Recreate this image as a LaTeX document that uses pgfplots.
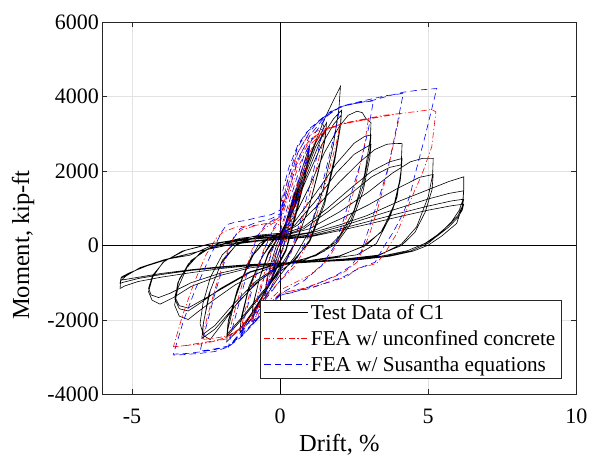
\documentclass[border=0pt]{standalone}
\usepackage{pgfplots}
\pgfplotsset{compat=1.18}
\usepackage{fontspec}
\setmainfont{Liberation Serif}
\begin{document}
\begin{tikzpicture}
\begin{axis}[
  at={(0pt,0pt)}, anchor=south west,
  scale only axis, width=474pt, height=372pt,
  xmin=-6, xmax=10, ymin=-4000, ymax=6000,
  xtick={-5,0,5,10}, ytick={-4000,-2000,0,2000,4000,6000},
  grid=major, major grid style={draw=black!11, line width=0.6pt},
  tick align=inside, major tick length=5pt,
  axis line style={black!85, line width=0.6pt},
  tick style={black!85, line width=0.6pt},
  tick label style={font=\fontsize{22}{26}\selectfont},
  xticklabel={\pgfmathprintnumber[assume math mode=true,1000 sep={}]{\tick}},
  yticklabel={\pgfmathprintnumber[assume math mode=true,1000 sep={}]{\tick}},
  xticklabel style={anchor=base, yshift=-29pt},
  label style={font=\fontsize{24.5}{29}\selectfont},
  xlabel={Drift, \%}, ylabel={Moment, kip-ft},
  xlabel style={at={(axis description cs:0.5,0)}, anchor=base, yshift=-57.5pt},
  ylabel style={at={(axis description cs:-0.1673,0.401)}, anchor=center},
  scaled y ticks=false, scaled x ticks=false,
  legend style={at={(0.969,0.043)}, anchor=south east, draw=black!85, line width=0.6pt,
    font=\fontsize{21.2}{24}\selectfont, inner xsep=4pt, inner ysep=3pt, row sep=5.5pt,
    cells={anchor=west}},
  legend image code/.code={\draw[#1, line width=1pt] (0pt,0.3pt) -- (44pt,0.3pt);},
]
\draw[black, line width=0.6pt] (axis cs:0,-4000) -- (axis cs:0,6000);
\draw[black, line width=0.6pt] (axis cs:-6,0) -- (axis cs:10,0);

% Test data of C1
\addplot[black, draw=black, line width=0.6pt] coordinates {
(0,0) (0.12,350) (0.25,720) (0.22,550) (0.1,150) (0,-80) (-0.12,-380) (-0.25,-720) (-0.22,-520) (-0.1,-120) (0,80)
(0.25,780) (0.5,1450) (0.46,1150) (0.3,550) (0.1,-50) (-0.1,-450) (-0.3,-900) (-0.5,-1300) (-0.46,-1000) (-0.3,-450) (-0.1,50) (0,200)
(0.3,850) (0.6,1650) (0.8,2200) (1.0,2700) (0.97,2450) (0.8,1750) (0.5,800) (0.2,-100) (-0.1,-550) (-0.4,-1050) (-0.7,-1550) (-0.95,-1950) (-0.92,-1650) (-0.7,-900) (-0.4,-250) (-0.1,150) (0,250)
(0.3,800) (0.6,1550) (0.8,2050) (0.98,2550) (0.95,2250) (0.78,1600) (0.5,700) (0.2,-150) (-0.1,-600) (-0.4,-1100) (-0.7,-1550) (-0.94,-1850) (-0.9,-1550) (-0.68,-850) (-0.4,-200) (-0.1,180) (0,260)
(0.4,1000) (0.8,1900) (1.2,2750) (1.57,3300) (1.54,3000) (1.35,2200) (1.0,1100) (0.6,200) (0.2,-400) (-0.3,-1000) (-0.8,-1650) (-1.35,-2350) (-1.32,-2050) (-1.1,-1300) (-0.7,-450) (-0.3,100) (0,280)
(0.4,950) (0.8,1800) (1.2,2650) (1.55,3150) (1.52,2850) (1.3,2000) (0.95,950) (0.5,50) (0.1,-450) (-0.4,-1100) (-0.9,-1750) (-1.35,-2250) (-1.3,-1900) (-1.05,-1100) (-0.6,-300) (-0.2,150) (0,280)
(0.3,800) (0.7,1700) (1.1,2600) (1.5,3400) (1.8,3900) (2.04,4280) (1.99,3700) (1.8,2700) (1.45,1500) (1.0,400) (0.5,-300) (0,-800) (-0.6,-1500) (-1.2,-2100) (-1.8,-2590) (-1.76,-2250) (-1.5,-1400) (-1.1,-500) (-0.7,50) (-0.2,280) (0,320)
(0.4,900) (0.9,1900) (1.4,2900) (1.8,3400) (2.08,3640) (2.05,3300) (1.85,2400) (1.5,1200) (1.0,150) (0.5,-400) (0,-700) (-0.6,-1300) (-1.2,-1900) (-1.8,-2450) (-1.76,-2100) (-1.45,-1200) (-1.0,-350) (-0.5,150) (0,300)
(0.4,850) (0.9,1800) (1.4,2700) (1.8,3250) (2.06,3500) (2.03,3150) (1.85,2300) (1.5,1100) (1.0,100) (0.4,-450) (0,-700) (-0.6,-1250) (-1.2,-1850) (-1.78,-2380) (-1.74,-2000) (-1.4,-1100) (-0.9,-250) (-0.4,200) (0,300)
(0.5,800) (1.0,1600) (1.5,2500) (2.0,3200) (2.3,3500) (2.6,3610) (2.78,3570) (2.9,3410) (3.07,3300) (3.05,2900) (2.85,1900) (2.5,950) (2.0,250) (1.5,-150) (0.8,-400) (0,-550) (-0.7,-950) (-1.4,-1500) (-2.0,-2150) (-2.36,-2530) (-2.58,-2420) (-2.7,-2100) (-2.6,-1550) (-2.35,-850) (-1.95,-250) (-1.4,150) (-0.7,280) (0,330)
(0.5,650) (1.2,1400) (1.9,2200) (2.5,2750) (2.85,2930) (3.07,2970) (3.03,2550) (2.8,1600) (2.4,700) (1.9,100) (1.2,-250) (0.5,-450) (0,-550) (-0.8,-1000) (-1.6,-1700) (-2.2,-2250) (-2.64,-2500) (-2.6,-2150) (-2.4,-1300) (-2.0,-500) (-1.5,0) (-0.8,230) (0,300)
(0.5,550) (1.2,1200) (1.9,1950) (2.5,2450) (3.07,2720) (3.03,2350) (2.8,1450) (2.4,600) (1.9,50) (1.2,-280) (0,-520) (-0.8,-950) (-1.6,-1600) (-2.2,-2150) (-2.62,-2400) (-2.58,-2050) (-2.35,-1200) (-1.95,-400) (-1.4,80) (-0.7,230) (0,290)
(0.6,550) (1.3,1100) (2.0,1700) (2.7,2250) (3.2,2580) (3.6,2720) (3.9,2745) (4.12,2740) (4.08,2000) (3.95,1300) (3.7,750) (3.25,50) (2.6,-250) (1.5,-370) (0.5,-450) (-0.5,-650) (-1.5,-1050) (-2.3,-1500) (-2.8,-1800) (-3.1,-1990) (-3.4,-1900) (-3.56,-1600) (-3.45,-1150) (-3.15,-600) (-2.7,-200) (-2.1,50) (-1.3,200) (-0.5,270) (0,290)
(0.8,500) (1.6,1000) (2.4,1550) (3.1,2000) (3.7,2250) (4.12,2340) (4.08,1900) (3.85,1100) (3.45,400) (2.9,0) (2.0,-280) (1.0,-400) (0,-480) (-1,-700) (-2,-1150) (-2.7,-1550) (-3.1,-1760) (-3.4,-1700) (-3.55,-1450) (-3.45,-1000) (-3.1,-500) (-2.6,-150) (-1.8,80) (-0.8,200) (0,250)
(0.8,450) (1.6,900) (2.4,1400) (3.1,1850) (3.7,2100) (4.1,2170) (4.06,1750) (3.82,1000) (3.4,350) (2.8,-20) (2.0,-290) (1.0,-410) (0,-490) (-1,-720) (-2,-1180) (-2.7,-1500) (-3.1,-1680) (-3.4,-1620) (-3.55,-1380) (-3.4,-900) (-3.0,-400) (-2.4,-80) (-1.6,100) (-0.7,200) (0,240)
(1,450) (2,900) (3,1450) (3.8,1950) (4.4,2250) (4.8,2340) (5.17,2340) (5.15,1900) (5.0,1306) (4.61,500) (4.1,40) (3.3,-280) (2.2,-380) (1,-450) (0,-500) (-1,-600) (-2,-800) (-3,-1100) (-3.6,-1400) (-4.05,-1577) (-4.32,-1470) (-4.44,-1245) (-4.3,-850) (-3.95,-450) (-3.3,-150) (-2.4,40) (-1.4,160) (-0.5,220) (0,230)
(1,350) (2,700) (3,1100) (4,1550) (4.7,1830) (5.17,1910) (5.13,1500) (4.9,900) (4.55,350) (4.1,0) (3.3,-260) (2.2,-360) (1,-430) (0,-480) (-1,-560) (-2,-740) (-3,-1000) (-3.7,-1280) (-4.1,-1400) (-4.35,-1330) (-4.44,-1150) (-4.3,-800) (-3.9,-420) (-3.2,-130) (-2.3,50) (-1.3,150) (-0.4,200) (0,210)
(1,330) (2,550) (2.92,800) (4.05,1200) (5,1500) (5.7,1720) (6.2,1846) (6.2,1500) (6.15,1038) (5.96,591) (5.45,250) (5.0,8) (4.5,-150) (3.7,-290) (2.7,-380) (1.5,-430) (0,-490) (-1,-540) (-2,-620) (-3,-730) (-4,-850) (-4.8,-970) (-5.25,-1090) (-5.4,-1156) (-5.38,-950) (-5.2,-820) (-4.72,-591) (-3.9,-380) (-3.04,-260) (-2.3,0) (-1.25,97) (0,200)
(1,280) (2,500) (3,750) (4,1000) (5,1250) (5.7,1400) (6.2,1470) (6.18,1250) (6.05,950) (5.8,650) (5.4,320) (5.0,60) (4.4,-150) (3.5,-300) (2.5,-380) (1.2,-440) (0,-480) (-1,-520) (-2,-590) (-3,-670) (-4,-780) (-4.8,-890) (-5.3,-990) (-5.4,-1020) (-5.37,-880) (-5.15,-780) (-4.6,-560) (-3.8,-360) (-2.8,-170) (-1.8,10) (-0.8,130) (0,180)
(1,250) (2,440) (3,650) (4,860) (5,1060) (5.8,1200) (6.2,1245) (6.15,1050) (6.0,800) (5.7,550) (5.3,280) (4.9,60) (4.3,-140) (3.4,-290) (2.3,-370) (1,-430) (0,-470) (-1,-510) (-2,-570) (-3,-650) (-4,-750) (-4.9,-870) (-5.38,-933) (-5.36,-850) (-5.1,-740) (-4.5,-550) (-3.7,-350) (-2.7,-150) (-1.7,20) (-0.7,120) (0,160)
(1,230) (2,400) (3,580) (4,770) (5,950) (5.8,1070) (6.2,1111) (6.15,950) (6.0,750) (5.7,500) (5.3,250) (4.9,50)
};
\addlegendentry{Test Data of C1}

% FEA w/ unconfined concrete
\addplot[red, draw=red, line width=0.6pt, dash pattern=on 6pt off 2.5pt on 1.2pt off 2.5pt] coordinates {
(0,0) (0.25,600) (0.5,1200) (0.45,950) (0.2,300) (0,-100) (-0.25,-600) (-0.5,-1150) (-0.45,-900) (-0.2,-300) (0,100)
(0.4,1050) (0.7,1800) (1.0,2450) (0.93,2150) (0.6,1150) (0.3,300) (0,-300) (-0.4,-1050) (-0.7,-1600) (-0.95,-2000) (-0.88,-1700) (-0.55,-800) (-0.25,-50) (0,350)
(0.4,1250) (0.8,2200) (1.2,2800) (1.5,3050) (1.42,2700) (1.1,1650) (0.7,550) (0.35,-250) (0,-700) (-0.5,-1350) (-1.0,-1900) (-1.3,-2200) (-1.2,-1800) (-0.85,-800) (-0.5,0) (-0.2,450) (0,600)
(0.3,1350) (0.6,2100) (1.0,2700) (1.4,3000) (1.7,3150) (2.02,3234) (1.9,2750) (1.6,1850) (1.25,850) (0.9,0) (0.5,-550) (0,-950) (-0.5,-1400) (-1.0,-1900) (-1.4,-2250) (-1.74,-2456) (-1.6,-1950) (-1.3,-1100) (-1.0,-250) (-0.8,250) (-0.5,480) (0,700)
(0.3,1500) (0.6,2250) (1.0,2800) (1.5,3100) (2.0,3250) (2.5,3330) (2.98,3387) (2.85,2700) (2.6,1800) (2.3,900) (2.0,150) (1.6,-400) (1.0,-800) (0,-1200) (-0.6,-1650) (-1.2,-2150) (-1.74,-2430) (-2.2,-2490) (-2.64,-2527) (-2.45,-1900) (-2.15,-1050) (-1.85,-300) (-1.55,250) (-1.3,420) (-0.8,540) (-0.3,620) (0,750)
(0.3,1650) (0.6,2350) (1.0,2850) (1.6,3150) (2.2,3300) (2.98,3420) (3.5,3500) (4.05,3548) (3.85,2800) (3.6,1900) (3.3,1000) (3.0,250) (2.6,-450) (2.1,-750) (1.5,-950) (0.8,-1150) (0,-1290) (-0.8,-1900) (-1.74,-2450) (-2.2,-2560) (-2.7,-2620) (-3.2,-2690) (-3.6,-2724) (-3.3,-1900) (-2.9,-1000) (-2.5,-250) (-2.15,200) (-1.91,366) (-1.46,500) (-0.79,546) (-0.34,591) (0,770)
(0.1,1300) (0.3,1900) (0.6,2500) (0.9,2900) (1.3,3100) (1.57,3150) (2.02,3250) (2.98,3400) (4.05,3548) (4.6,3600) (5.12,3656) (5.26,3591) (5.12,2650) (4.78,1890) (4.55,1487) (4.22,860) (3.94,323) (3.6,-126) (3.26,-484) (2.59,-620) (2.25,-842) (1.69,-978) (1.12,-1111) (0.5,-1200) (0,-1290) (-0.8,-1950) (-1.74,-2500) (-2.7,-2650) (-3.6,-2724)
};
\addlegendentry{FEA w/ unconfined concrete}

% FEA w/ Susantha equations
\addplot[blue, draw=blue, line width=0.6pt, dash pattern=on 6.5pt off 4pt] coordinates {
(0,0) (0.25,650) (0.5,1300) (0.45,1050) (0.2,350) (0,-100) (-0.25,-650) (-0.5,-1250) (-0.45,-1000) (-0.2,-350) (0,100)
(0.4,1150) (0.7,1950) (1.0,2650) (0.93,2350) (0.6,1300) (0.3,400) (0,-300) (-0.4,-1100) (-0.7,-1700) (-0.95,-2150) (-0.88,-1850) (-0.55,-900) (-0.25,-100) (0,400)
(0.4,1400) (0.8,2400) (1.2,3050) (1.5,3380) (1.42,3000) (1.1,1900) (0.7,700) (0.35,-200) (0,-700) (-0.5,-1400) (-1.0,-2000) (-1.3,-2350) (-1.2,-1950) (-0.85,-900) (-0.5,-50) (-0.2,500) (0,700)
(0.3,1500) (0.6,2300) (1.0,2950) (1.4,3350) (1.7,3550) (2.02,3727) (1.9,3200) (1.6,2200) (1.25,1100) (0.9,150) (0.5,-450) (0,-950) (-0.5,-1450) (-1.0,-2000) (-1.4,-2400) (-1.74,-2724) (-1.6,-2200) (-1.3,-1300) (-1.0,-400) (-0.8,200) (-0.5,550) (0,800)
(0.3,1700) (0.6,2500) (1.0,3050) (1.3,3350) (1.7,3600) (2.2,3760) (2.7,3840) (3.15,3887) (3.0,3200) (2.75,2300) (2.47,1575) (2.15,700) (1.85,0) (1.4,-550) (0.8,-950) (0,-1300) (-0.6,-1800) (-1.2,-2350) (-1.74,-2700) (-2.2,-2780) (-2.7,-2840) (-2.5,-2200) (-2.2,-1300) (-1.9,-500) (-1.6,150) (-1.35,450) (-0.8,620) (-0.3,720) (0,850)
(0.3,1900) (0.6,2650) (1.0,3150) (1.5,3450) (2.1,3750) (2.6,3850) (3.15,3950) (3.6,4030) (4.16,4086) (3.9,3050) (3.65,2097) (3.35,1300) (3.09,680) (2.75,-150) (2.4,-550) (1.9,-800) (1.2,-1050) (0.5,-1250) (0,-1340) (-0.8,-2008) (-1.74,-2700) (-2.2,-2800) (-2.7,-2860) (-3.1,-2900) (-3.6,-2922) (-3.25,-2000) (-2.87,-1200) (-2.45,-450) (-2.1,150) (-1.97,366) (-1.8,560) (-1.5,630) (-1.12,680) (-0.67,769) (-0.3,830) (0,950)
(0.1,1500) (0.3,2100) (0.6,2700) (0.9,3050) (1.12,3190) (1.4,3400) (1.7,3580) (2.02,3727) (2.6,3830) (3.15,3906) (3.7,4030) (4.16,4120) (4.7,4180) (5.29,4220) (4.9,2950) (4.55,1890) (4.39,1352) (4.16,868) (3.82,358) (3.49,-46) (3.21,-450) (2.70,-600) (2.14,-844) (1.57,-1000) (1.01,-1156) (0.45,-1247) (0,-1336) (-0.79,-2008) (-1.3,-2450) (-1.74,-2724) (-2.2,-2850) (-2.7,-2900) (-3.2,-2930) (-3.6,-2948)
};
\addlegendentry{FEA w/ Susantha equations}
\end{axis}
\pgfresetboundingbox
\path[use as bounding box] (-102.3pt,-62.7pt) rectangle (487.7pt,394.3pt);
\end{tikzpicture}
\end{document}
